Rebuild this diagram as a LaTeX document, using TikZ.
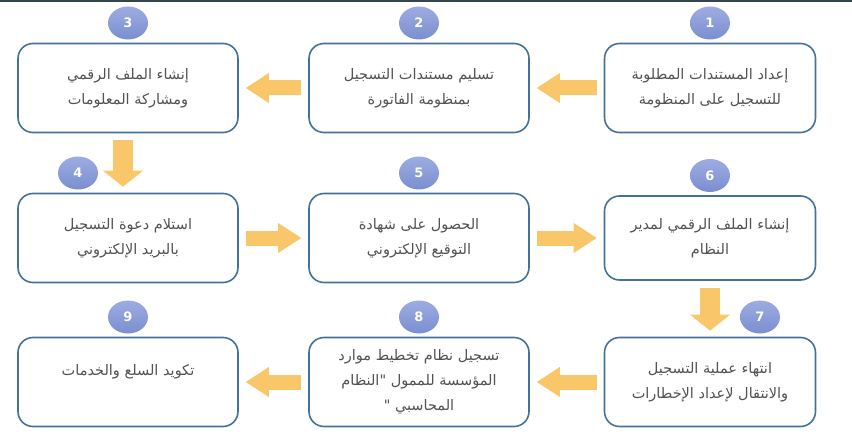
\documentclass[tikz,border=0pt]{standalone}
\usepackage{fontspec}
\newfontfamily\arabicfont[Script=Arabic]{DejaVu Sans}
\newfontfamily\digitfont{DejaVu Sans}
\TeXXeTstate=1
\usetikzlibrary{arrows.meta, positioning, shapes.geometric}

\definecolor{frame}{HTML}{44719A}
\definecolor{flowyellow}{HTML}{F9C76A}
\definecolor{badgetop}{HTML}{9DACE2}
\definecolor{badgebottom}{HTML}{7A8ECF}
\definecolor{steptext}{HTML}{525252}
\definecolor{edgeline}{HTML}{33454D}

\newcommand{\ar}[1]{\beginR #1\endR}

\begin{document}
\begin{tikzpicture}[
    x=1pt, y=-1pt,
    node distance={291pt},
    stepbox/.style={draw=frame, line width=1.6pt, rounded corners=15pt,
        minimum width=220pt, minimum height=89pt, align=center,
        text=steptext, font=\arabicfont\fontsize{14.5}{25}\selectfont},
    badge/.style={ellipse, top color=badgetop, bottom color=badgebottom,
        minimum width=40pt, minimum height=33pt, inner sep=0pt,
        text=white, font=\digitfont\bfseries\fontsize{13}{13}\selectfont},
    flowh/.style={color=flowyellow, line width=15pt,
        -{Triangle[width=30pt, length=23pt, line width=0pt]},
        shorten <=7pt, shorten >=7pt},
    flowv/.style={color=flowyellow, line width=20pt,
        -{Triangle[width=40pt, length=16pt, line width=0pt]},
        shorten <=7pt, shorten >=6pt}
]
\useasboundingbox (0,0) rectangle (852,441);
\draw[line width=2pt, edgeline] (0,1) -- (852,1);

\node[stepbox, minimum width=211pt] (s1) at (710,88) {\ar{إعداد المستندات المطلوبة}\\ \ar{للتسجيل على المنظومة}};
\node[stepbox] (s2) [left of=s1] {\ar{تسليم مستندات التسجيل}\\ \ar{بمنظومة الفاتورة}};
\node[stepbox] (s3) [left of=s2] {\ar{إنشاء الملف الرقمي}\\ \ar{ومشاركة المعلومات}};
\node[stepbox] (s4) [below of=s3, node distance=150pt] {\ar{استلام دعوة التسجيل}\\ \ar{بالبريد الإلكتروني}};
\node[stepbox] (s5) [right of=s4] {\ar{الحصول على شهادة}\\ \ar{التوقيع الإلكتروني}};
\node[stepbox, minimum width=211pt, minimum height=84pt] (s6) [right of=s5] {\ar{إنشاء الملف الرقمي لمدير}\\ \ar{النظام}};
\node[stepbox, minimum width=211pt] (s7) [below of=s6, node distance=144pt] {\ar{انتهاء عملية التسجيل}\\ \ar{والانتقال لإعداد الإخطارات}};
\node[stepbox] (s8) [left of=s7] {\ar{تسجيل نظام تخطيط موارد}\\ \ar{المؤسسة للممول "النظام}\\ \ar{المحاسبي "}};
\node[stepbox] (s9) [left of=s8] {\ar{تكويد السلع والخدمات}\\ {}};

\node[badge] (n1) [above=3pt of s1] {1};
\node[badge] (n2) [above=3pt of s2] {2};
\node[badge] (n3) [above=3pt of s3] {3};
\node[badge] (n4) [above=3pt of s4, xshift=-50pt] {4};
\node[badge] (n5) [above=3pt of s5] {5};
\node[badge] (n6) [above=3pt of s6] {6};
\node[badge] (n7) [above=3pt of s7, xshift=50pt] {7};
\node[badge] (n8) [above=3pt of s8] {8};
\node[badge] (n9) [above=3pt of s9] {9};

\path[flowh]
    (s1) edge (s2)
    (s2) edge (s3)
    (s4) edge (s5)
    (s5) edge (s6)
    (s7) edge (s8)
    (s8) edge (s9)
    ;
\path[flowv]
    ([xshift=-5pt]s3.south) edge ([xshift=-5pt]s4.north)
    (s6) edge (s7)
    ;

\end{tikzpicture}
\end{document}
